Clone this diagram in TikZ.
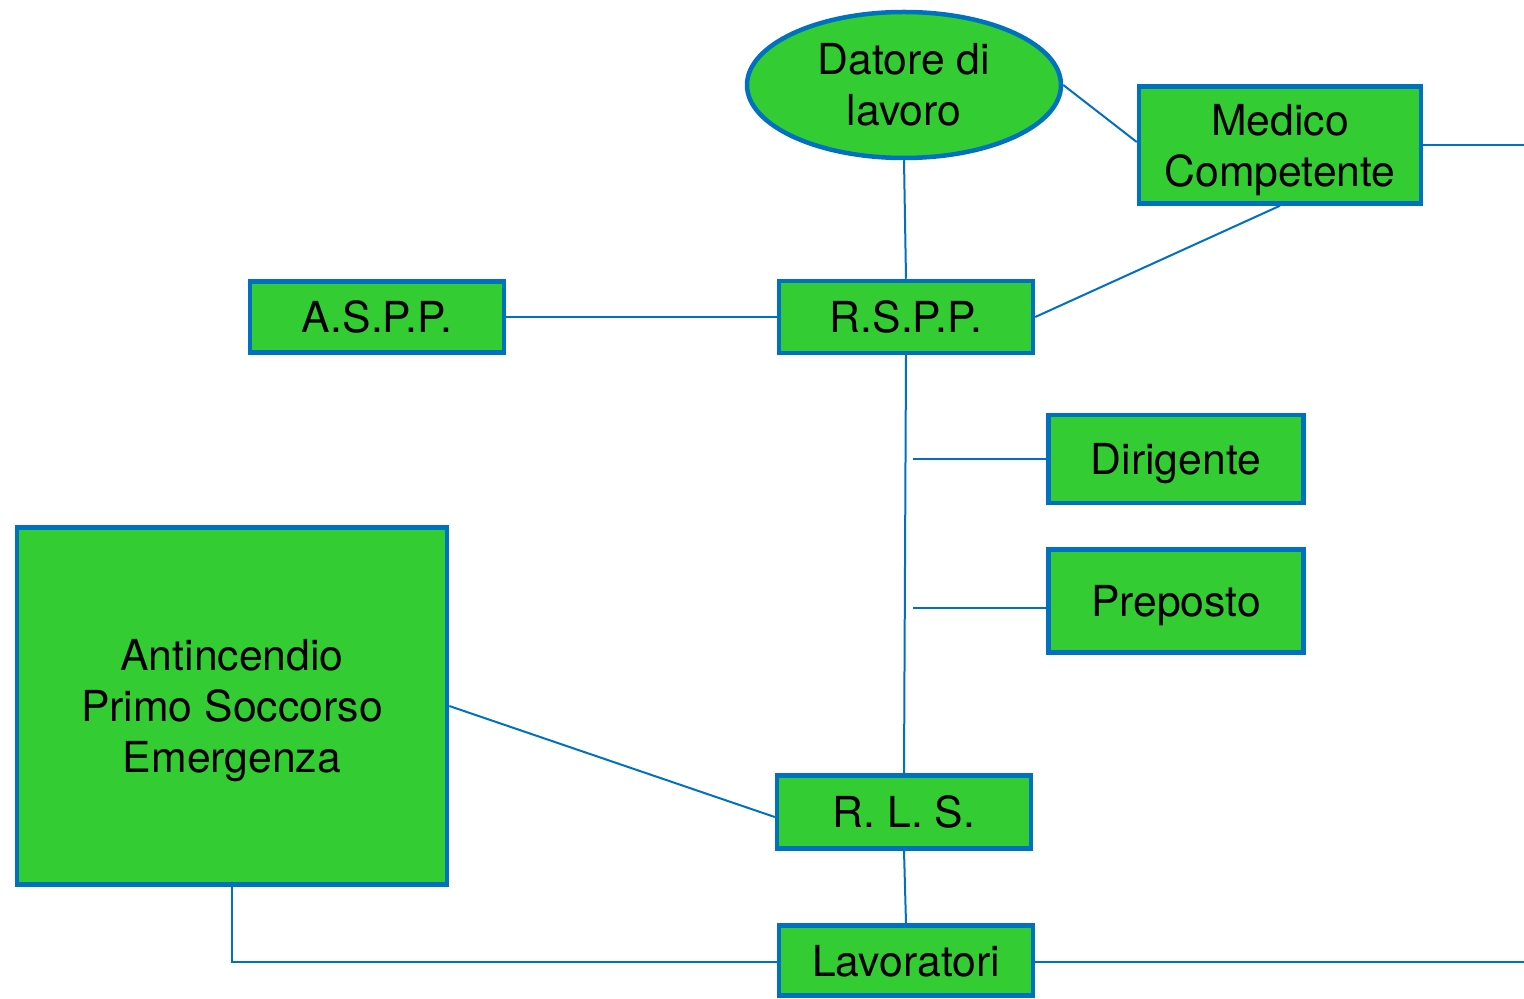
\documentclass[tikz,border=0pt]{standalone}
\usepackage{fontspec}
\setmainfont{TeX Gyre Heros}
\usetikzlibrary{shapes.geometric,calc}
\definecolor{boxgreen}{HTML}{33CC33}
\definecolor{boxblue}{HTML}{0070C0}
\tikzset{
  box/.style={draw=boxblue, fill=boxgreen, line width=0.09cm, rectangle, inner sep=0pt, align=center,
    text depth=0pt, font=\fontsize{24.3}{29}\selectfont},
  oval/.style={draw=boxblue, fill=boxgreen, line width=0.09cm, ellipse, inner sep=0pt, align=center,
    font=\fontsize{24.3}{29}\selectfont},
  conn/.style={draw=boxblue, line width=0.04cm}
}
\begin{document}
\begin{tikzpicture}[x=0.02cm,y=-0.02cm]
\useasboundingbox (0,0) rectangle (1524,999);
% nodes
\node[oval, minimum width=314*0.02cm, minimum height=146*0.02cm] (dl) at (904,85) {Datore di\\lavoro};
\node[box, minimum width=282*0.02cm, minimum height=117*0.02cm] (mc) at (1280,145) {Medico\\Competente};
\node[box, minimum width=254*0.02cm, minimum height=71*0.02cm] (aspp) at (377,317) {A.S.P.P.};
\node[box, minimum width=254*0.02cm, minimum height=72*0.02cm] (rspp) at (906,317) {R.S.P.P.};
\node[box, minimum width=255*0.02cm, minimum height=88*0.02cm] (dir) at (1176,459) {Dirigente};
\node[box, minimum width=255*0.02cm, minimum height=103*0.02cm] (pre) at (1176,601) {Preposto};
\node[box, minimum width=430*0.02cm, minimum height=357*0.02cm] (ant) at (232,706) {Antincendio\\Primo Soccorso\\Emergenza};
\node[box, minimum width=254*0.02cm, minimum height=73*0.02cm] (rls) at (904,812) {R. L. S.};
\node[box, minimum width=254*0.02cm, minimum height=70*0.02cm] (lav) at (906,960.5) {Lavoratori};
% free ends
\coordinate (eR1) at (1524,145);
\coordinate (eR2) at (1524,962);
\coordinate (d1) at (913,459);
\coordinate (p1) at (913,608);
\coordinate (k1) at (232,962);
% connectors
\draw[conn] (dl.south) -- (rspp.north);
\draw[conn] (dl.east) -- ($(mc.west)+(0,-3)$);
\draw[conn] (mc.south) -- (rspp.east);
\draw[conn] (mc.east) -- (eR1);
\draw[conn] (aspp.east) -- (rspp.west);
\draw[conn] (rspp.south) -- (rls.north);
\draw[conn] (d1) -- (d1 -| dir.west);
\draw[conn] (p1) -- (p1 -| pre.west);
\draw[conn] (ant.east) -- ($(rls.west)+(0,5)$);
\draw[conn] (rls.south) -- (lav.north);
\draw[conn] (ant.south) -- (k1) -- (k1 -| lav.west);
\draw[conn] (lav.east |- eR2) -- (eR2);
\end{tikzpicture}
\end{document}
